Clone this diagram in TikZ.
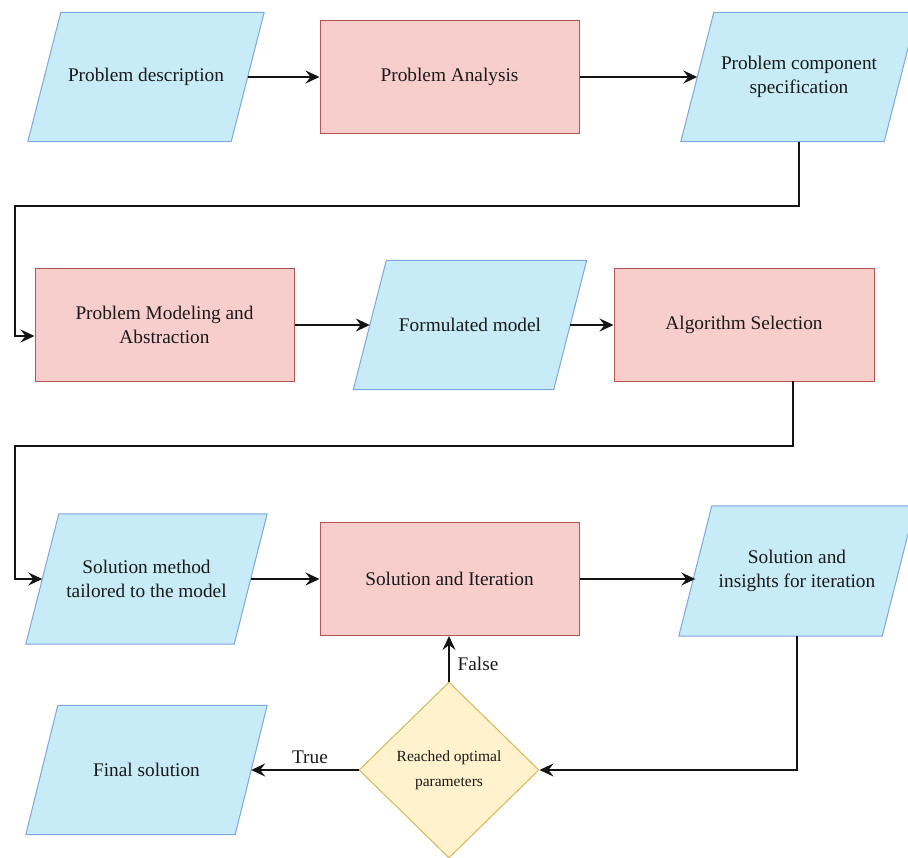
\documentclass[tikz,border=0pt]{standalone}
\usepackage{fontspec}
\setmainfont{Liberation Serif}
\usetikzlibrary{shapes.geometric,arrows.meta,calc,backgrounds}

\definecolor{iofill}{HTML}{C8EBF8}
\definecolor{iodraw}{HTML}{7EA6E0}
\definecolor{procfill}{HTML}{F8CECC}
\definecolor{procdraw}{HTML}{B85450}
\definecolor{decfill}{HTML}{FFF2CC}
\definecolor{decdraw}{HTML}{D6B656}
\definecolor{linecol}{HTML}{141414}

\tikzset{
  txt/.style={font=\fontsize{19.3}{24}\selectfont, align=center, text=black!90},
  % data box: the node is the mid-line rectangle, the slanted outline is drawn behind it
  iobox/.style={txt, rectangle, minimum width=203pt, minimum height=129pt, inner sep=0pt},
  ioshape/.style={fill=iofill, draw=iodraw, line width=1pt, line join=miter},
  procbox/.style={txt, rectangle, minimum width=259pt, minimum height=113pt,
    inner sep=0pt, fill=procfill, draw=procdraw, line width=1pt},
  decbox/.style={font=\fontsize{15.5}{25}\selectfont, align=center, text=black!90,
    diamond, minimum width=180pt, minimum height=176pt, inner sep=0pt,
    fill=decfill, draw=decdraw, line width=1pt},
  conn/.style={draw=linecol, line width=1.8pt,
    -{Stealth[length=14pt,width=13pt,inset=5pt]}},
  lbl/.style={font=\fontsize{19.3}{24}\selectfont, text=black!90, inner sep=0pt}
}

% slanted outline of a data box (#2 = half of the horizontal slant)
\newcommand\ioslant[2]{%
  \path[ioshape] ([xshift=#2pt]#1.north west) -- ([xshift=#2pt]#1.north east)
    -- ([xshift=-#2pt]#1.south east) -- ([xshift=-#2pt]#1.south west) -- cycle;}

\begin{document}
\begin{tikzpicture}[x=1pt,y=-1pt]
  \useasboundingbox (0,0) rectangle (908,858);

  % first row
  \node[iobox]   (desc)  at (146,77)   {Problem description};
  \node[procbox] (ana)   at (449.5,77) {Problem Analysis};
  \node[iobox]   (spec)  at (799,77)   {Problem component\\specification};

  % second row
  \node[procbox] (model) at (164.5,325) {Problem Modeling and\\Abstraction};
  \node[iobox, minimum width=200pt] (form) at (470,325) {Formulated model};
  \node[procbox, minimum width=260pt] (alg) at (744,325) {Algorithm Selection};

  % third row
  \node[iobox, minimum width=208pt, minimum height=130pt] (method) at (146.5,579) {Solution method\\tailored to the model};
  \node[procbox] (iter)  at (449.5,579) {Solution and Iteration};
  \node[iobox, minimum height=130pt] (ins) at (797,571) {Solution and\\insights for iteration};

  % decision and result
  \node[decbox]  (dec)   at (449,770)     {Reached optimal\\parameters};
  \node[iobox, minimum width=209pt] (final) at (146.5,770) {Final solution};

  % slanted outlines behind the data boxes
  \begin{scope}[on background layer]
    \ioslant{desc}{16.5}
    \ioslant{spec}{16.5}
    \ioslant{form}{16.5}
    \ioslant{method}{16.5}
    \ioslant{ins}{16.5}
    \ioslant{final}{16}
  \end{scope}

  % routing points of the elbow connectors
  \coordinate (b1a) at (15,206);
  \coordinate (b1b) at (15,336);
  \coordinate (b2a) at (15,446);
  \coordinate (b2b) at (15,579);
  \coordinate (algout) at (793,381);

  % connectors
  \draw[conn] (desc) -- (ana);
  \draw[conn] (ana) -- (spec);
  \draw[conn] (spec) |- (b1a) -- (b1b) -- (b1b -| model.west);
  \draw[conn] (model) -- (form);
  \draw[conn] (form) -- (alg);
  \draw[conn] (algout) |- (b2a) -- (b2b) -- (method);
  \draw[conn] (method.east |- iter.west) -- (iter.west);
  \draw[conn] (iter.east) -- (iter.east -| ins.west);
  \draw[conn] (ins) |- (dec);
  \draw[conn] (dec.north) -- (dec.north |- iter.south);
  \draw[conn] (dec.west) -- (dec.west -| final.east);

  % branch labels
  \node[lbl] (lfalse) at (478,664) {False};
  \node[lbl] (ltrue)  at (310,757) {True};
\end{tikzpicture}
\end{document}
